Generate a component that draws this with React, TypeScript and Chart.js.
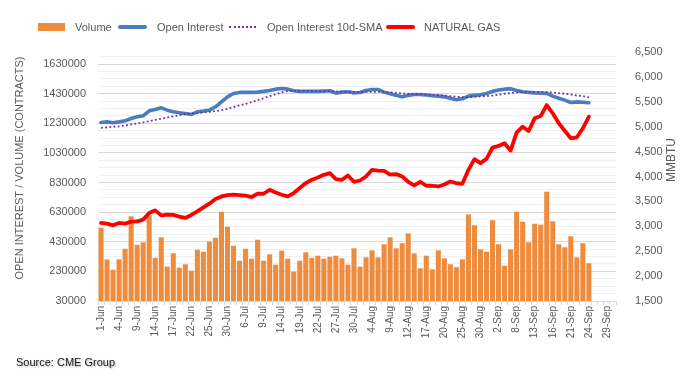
import React, { useEffect, useRef } from 'react';
import { Chart, registerables } from 'chart.js';
Chart.register(...registerables);

const dates = [
  '1-Jun','2-Jun','3-Jun','4-Jun','7-Jun','8-Jun','9-Jun','10-Jun','11-Jun','14-Jun','15-Jun','16-Jun','17-Jun','18-Jun','21-Jun','22-Jun','23-Jun','24-Jun','25-Jun','28-Jun','29-Jun','30-Jun',
  '1-Jul','2-Jul','6-Jul','7-Jul','8-Jul','9-Jul','12-Jul','13-Jul','14-Jul','15-Jul','16-Jul','19-Jul','20-Jul','21-Jul','22-Jul','23-Jul','26-Jul','27-Jul','28-Jul','29-Jul','30-Jul',
  '2-Aug','3-Aug','4-Aug','5-Aug','6-Aug','9-Aug','10-Aug','11-Aug','12-Aug','13-Aug','16-Aug','17-Aug','18-Aug','19-Aug','20-Aug','23-Aug','24-Aug','25-Aug','26-Aug','27-Aug','30-Aug','31-Aug',
  '1-Sep','2-Sep','3-Sep','7-Sep','8-Sep','9-Sep','10-Sep','13-Sep','14-Sep','15-Sep','16-Sep','17-Sep','20-Sep','21-Sep','22-Sep','23-Sep','24-Sep','27-Sep','28-Sep','29-Sep','30-Sep'
];

const volume = [
  525000,311000,241000,311000,383000,602000,410000,426000,609000,322000,
  460000,262000,352000,255000,278000,235000,376000,363000,430000,457000,
  633000,532000,403000,302000,383000,316000,444000,302000,345000,275000,
  370000,316000,228000,302000,359000,322000,336000,316000,329000,336000,
  318000,275000,386000,262000,325000,372000,325000,413000,460000,386000,
  420000,487000,352000,251000,336000,244000,372000,318000,278000,258000,
  311000,615000,541000,379000,363000,575000,413000,268000,379000,633000,
  565000,426000,552000,545000,768000,568000,413000,393000,467000,325000,
  420000,285000
];

const openInterest = [
  1236000,1240000,1234000,1240000,1247000,1263000,1274000,1281000,1315000,1324000,
  1335000,1319000,1308000,1301000,1297000,1290000,1308000,1313000,1319000,1342000,
  1375000,1409000,1432000,1439000,1439000,1439000,1441000,1446000,1452000,1461000,
  1466000,1461000,1450000,1446000,1446000,1446000,1446000,1448000,1450000,1434000,
  1441000,1443000,1436000,1438000,1452000,1459000,1459000,1441000,1430000,1419000,
  1409000,1419000,1425000,1425000,1421000,1416000,1414000,1409000,1400000,1389000,
  1396000,1414000,1419000,1423000,1432000,1446000,1455000,1461000,1463000,1452000,
  1443000,1439000,1436000,1434000,1432000,1414000,1400000,1387000,1371000,1375000,
  1373000,1369000
];

const openInterestSma = [
  1200000,1203000,1207000,1209000,1216000,1223000,1230000,1236000,1245000,1254000,
  1261000,1270000,1277000,1284000,1292000,1297000,1299000,1304000,1308000,1313000,
  1319000,1328000,1340000,1351000,1362000,1373000,1387000,1400000,1414000,1427000,
  1439000,1448000,1450000,1450000,1450000,1448000,1448000,1448000,1448000,1446000,
  1441000,1441000,1441000,1441000,1443000,1443000,1443000,1441000,1439000,1436000,
  1432000,1430000,1427000,1427000,1425000,1423000,1421000,1418000,1414000,1409000,
  1407000,1407000,1409000,1412000,1414000,1418000,1423000,1430000,1434000,1439000,
  1441000,1443000,1443000,1443000,1441000,1439000,1434000,1430000,1425000,1418000,
  1414000,1405000
];

const naturalGas = [
  3068,3054,3020,3068,3054,3094,3100,3134,3268,3320,
  3220,3234,3228,3194,3168,3228,3300,3380,3454,3548,
  3600,3628,3634,3628,3614,3588,3654,3654,3734,3680,
  3634,3600,3668,3768,3868,3934,3980,4034,4068,3948,
  3934,4020,3894,3920,4000,4134,4120,4114,4040,4048,
  4000,3894,3820,3894,3814,3814,3800,3840,3900,3868,
  3854,4134,4348,4268,4354,4580,4614,4668,4520,4880,
  5000,4914,5168,5214,5434,5268,5068,4920,4768,4788,
  4968,5200
];

const leftTicks = [30000,80000,130000,180000,230000,280000,330000,380000,430000,480000,530000,580000,630000,680000,730000,780000,830000,880000,930000,980000,1030000,1080000,1130000,1180000,1230000,1280000,1330000,1380000,1430000,1480000,1530000,1580000,1630000,1680000];
const leftMajor = [30000,230000,430000,630000,830000,1030000,1230000,1430000,1630000];

const FONT = '"Liberation Sans", Arial, sans-serif';

export default function App() {
  const ref = useRef<HTMLCanvasElement>(null);
  useEffect(() => {
    document.body.style.margin = '0';
    const titles = {
      id: 'axisTitles',
      afterDraw(chart: any) {
        const c = chart.ctx;
        c.save();
        c.fillStyle = '#595959';
        c.textAlign = 'center';
        c.textBaseline = 'middle';
        c.font = `11px ${FONT}`;
        c.translate(20, 168);
        c.rotate(-Math.PI / 2);
        c.fillText('OPEN INTEREST / VOLUME (CONTRACTS)', 0, 0);
        c.restore();
        c.save();
        c.fillStyle = '#595959';
        c.textAlign = 'center';
        c.textBaseline = 'middle';
        c.font = `12px ${FONT}`;
        c.translate(672, 160);
        c.rotate(-Math.PI / 2);
        c.fillText('MMBTU', 0, 0);
        c.restore();
      },
    };
    const chart = new Chart(ref.current!, {
      type: 'bar',
      data: {
        labels: dates,
        datasets: [
          {
            type: 'line',
            label: 'NATURAL GAS',
            data: naturalGas,
            yAxisID: 'y1',
            borderColor: '#FF0000',
            borderWidth: 3.8,
            pointRadius: 0,
            tension: 0,
            borderJoinStyle: 'round',
            borderCapStyle: 'round',
            order: 1,
          } as any,
          {
            type: 'line',
            label: 'Open Interest 10d-SMA',
            data: openInterestSma,
            yAxisID: 'y',
            borderColor: '#7030A0',
            borderWidth: 1.8,
            borderDash: [1.8, 2.4],
            pointRadius: 0,
            tension: 0,
            order: 2,
          } as any,
          {
            type: 'line',
            label: 'Open Interest',
            data: openInterest,
            yAxisID: 'y',
            borderColor: '#4A7DC0',
            borderWidth: 3.6,
            pointRadius: 0,
            tension: 0,
            borderJoinStyle: 'round',
            borderCapStyle: 'round',
            order: 3,
          } as any,
          {
            type: 'bar',
            label: 'Volume',
            data: volume,
            yAxisID: 'y',
            backgroundColor: '#EF8B3D',
            barPercentage: 0.84,
            categoryPercentage: 1.0,
            order: 10,
          } as any,
        ],
      },
      options: {
        animation: false,
        responsive: true,
        maintainAspectRatio: false,
        layout: { padding: { top: 52, left: 0, right: 0, bottom: 0 } },
        plugins: { legend: { display: false }, tooltip: { enabled: false } },
        scales: {
          x: {
            offset: true,
            grid: { offset: true, drawOnChartArea: false, drawTicks: true, tickLength: 4, color: '#d9d9d9' },
            border: { color: '#d9d9d9' },
            ticks: {
              autoSkip: false,
              maxRotation: 90,
              minRotation: 90,
              padding: 1,
              color: '#595959',
              font: { family: FONT, size: 10 },
              callback: (_v: any, i: number) => (i % 3 === 0 ? dates[i] : ''),
            },
            afterFit: (s: any) => { s.height = 82; },
          },
          y: {
            position: 'left',
            min: 30000,
            max: 1712000,
            border: { display: false },
            grid: {
              drawTicks: false,
              color: (ctx: any) => (ctx.tick && leftMajor.includes(ctx.tick.value) ? '#d9d9d9' : '#f0f0f0'),
            },
            afterBuildTicks: (s: any) => { s.ticks = leftTicks.map((v) => ({ value: v })); },
            ticks: {
              autoSkip: false,
              padding: 12,
              color: '#595959',
              font: { family: FONT, size: 11 },
              callback: (v: any) => (leftMajor.includes(Number(v)) ? String(v) : ''),
            },
            afterFit: (s: any) => { s.width = 98; },
          },
          y1: {
            position: 'right',
            min: 1500,
            max: 6500,
            border: { display: false },
            grid: { display: false },
            ticks: {
              stepSize: 500,
              padding: 11,
              color: '#595959',
              font: { family: FONT, size: 11 },
              callback: (v: any) => Number(v).toLocaleString('en-US'),
            },
            afterFit: (s: any) => { s.width = 71; },
          },
        },
      } as any,
      plugins: [titles],
    });
    return () => chart.destroy();
  }, []);

  const txt: React.CSSProperties = { position: 'absolute', top: 19.5, fontSize: 11, color: '#595959', fontFamily: FONT, lineHeight: '14px', whiteSpace: 'nowrap' };
  return (
    <div style={{ position: 'fixed', left: 0, top: 0, width: 687, height: 383, background: '#fff', overflow: 'hidden' }}>
      <div style={{ position: 'absolute', left: 0, top: 0, width: 687, height: 383 }}>
        <canvas ref={ref} />
      </div>
      <div style={{ position: 'absolute', left: 38, top: 22.5, width: 27, height: 8, background: '#EF8B3D' }} />
      <div style={{ ...txt, left: 75 }}>Volume</div>
      <div style={{ position: 'absolute', left: 118, top: 25, width: 29, height: 3.6, borderRadius: 2, background: '#4A7DC0' }} />
      <div style={{ ...txt, left: 157 }}>Open Interest</div>
      <div style={{ position: 'absolute', left: 229, top: 26, width: 27, height: 0, borderTop: '2px dotted #7030A0' }} />
      <div style={{ ...txt, left: 267 }}>Open Interest 10d-SMA</div>
      <div style={{ position: 'absolute', left: 386, top: 25, width: 29, height: 3.8, borderRadius: 2, background: '#FF0000' }} />
      <div style={{ ...txt, left: 424 }}>NATURAL GAS</div>
      <div style={{ position: 'absolute', left: 16, top: 356, fontSize: 11, color: '#1a1a1a', fontFamily: FONT, textShadow: '1px 1px 2px rgba(0,0,0,0.35)', whiteSpace: 'nowrap' }}>Source: CME Group</div>
    </div>
  );
}
